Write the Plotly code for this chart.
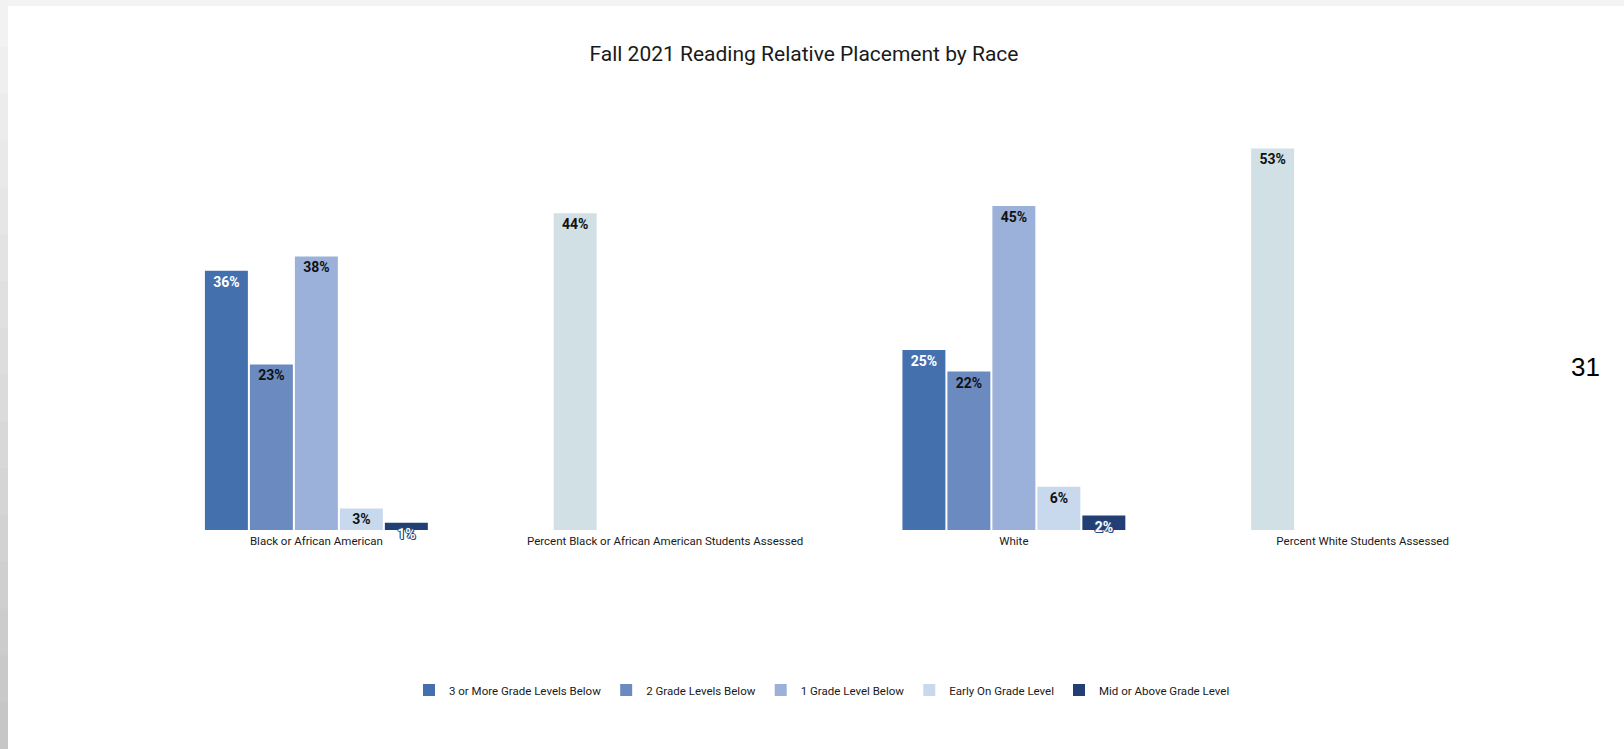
import plotly.graph_objects as go

# ---- data ----
categories = [
    "Black or African American",
    "Percent Black or African American Students Assessed",
    "White",
    "Percent White Students Assessed",
]
three_or_more_below = [36, None, 25, None]
two_below = [23, None, 22, None]
one_below = [38, None, 45, None]
early_on = [3, None, 6, None]
mid_or_above = [1, None, 2, None]
pct_assessed = [None, 44, None, 53]

series_names = [
    "3 or More Grade Levels Below",
    "2 Grade Levels Below",
    "1 Grade Level Below",
    "Early On Grade Level",
    "Mid or Above Grade Level",
]

# ---- page geometry (pixels) ----
W, H = 1624, 749
ML, MR, MT, MB = 142, 87, 134, 219
PW, PH = W - ML - MR, H - MT - MB


def px_x(px):
    return (px - ML) / PW


def px_y(py):
    return (H - MB - py) / PH


FONT = "Roboto, 'Noto Sans', sans-serif"
colors = ["#4570ae", "#6b8bc0", "#9cb1d9", "#c8d9ee", "#213f75"]
text_colors = ["#ffffff", "#111111", "#111111", "#111111", "#ffffff"]
assessed_color = "#d1e0e4"
OUTLINE = ("1px 0 0 #2c4a7e, -1px 0 0 #2c4a7e, 0 1px 0 #2c4a7e, "
           "0 -1px 0 #2c4a7e, 1px 1px 0 #2c4a7e, -1px -1px 0 #2c4a7e")

fig = go.Figure()

values = [three_or_more_below, two_below, one_below, early_on, mid_or_above]
for i, (name, vals) in enumerate(zip(series_names, values)):
    fig.add_trace(go.Bar(
        x=categories, y=vals, name=name,
        marker=dict(color=colors[i], line=dict(width=0)),
        offsetgroup=f"g{i}",
        texttemplate="%{y}%",
        textposition="inside",
        insidetextanchor="end",
        constraintext="none",
        cliponaxis=False,
        textangle=0,
        textfont=dict(family=FONT, size=14, color=text_colors[i],
                      weight="bold",
                      shadow=OUTLINE if i == 4 else "none"),
        hoverinfo="x+y+name",
    ))

# share the first slot so the assessed bar sits at the left of its group
fig.add_trace(go.Bar(
    x=categories, y=pct_assessed, name="Percent Assessed",
    marker=dict(color=assessed_color, line=dict(width=0)),
    offsetgroup="g0",
    showlegend=False,
    texttemplate="%{y}%",
    textposition="inside",
    insidetextanchor="end",
    constraintext="none",
    textangle=0,
    textfont=dict(family=FONT, size=14, color="#111111", weight="bold"),
))

# slide frame: light grey top strip and shaded left edge
shapes = [dict(type="rect", xref="paper", yref="paper", layer="below",
               x0=px_x(0), x1=px_x(W), y0=px_y(0), y1=px_y(6),
               fillcolor="#f3f3f3", line=dict(width=0))]
steps = 16
top_c, bot_c = (243, 243, 243), (197, 197, 197)
for k in range(steps):
    t = (k + 0.5) / steps
    c = tuple(round(a + (b - a) * t) for a, b in zip(top_c, bot_c))
    shapes.append(dict(
        type="rect", xref="paper", yref="paper", layer="below",
        x0=px_x(0), x1=px_x(8),
        y0=px_y(H * k / steps), y1=px_y(H * (k + 1) / steps + 1),
        fillcolor="rgb(%d,%d,%d)" % c, line=dict(width=0)))

fig.update_layout(
    width=W, height=H,
    margin=dict(l=ML, r=MR, t=MT, b=MB, pad=0),
    paper_bgcolor="#ffffff",
    plot_bgcolor="rgba(0,0,0,0)",
    barmode="group",
    bargap=0.355,
    bargroupgap=0.045,
    title=dict(text="Fall 2021 Reading Relative Placement by Race",
               xref="container", yref="container",
               x=804 / W, y=1 - 54 / H, xanchor="center", yanchor="middle",
               font=dict(family=FONT, size=21, color="#1a1a1a")),
    xaxis=dict(showgrid=False, zeroline=False, showline=False, ticks="",
               ticklabelstandoff=2,
               tickfont=dict(family=FONT, size=11.5, color="#1a1a1a")),
    yaxis=dict(range=[0, 55], visible=False, showgrid=False, zeroline=False),
    legend=dict(orientation="h", xref="container", yref="container",
                x=822 / W, y=1 - 690 / H, xanchor="center", yanchor="middle",
                font=dict(family=FONT, size=11.5, color="#1a1a1a"),
                itemwidth=30, traceorder="normal"),
    shapes=shapes,
    annotations=[dict(text="31", xref="paper", yref="paper",
                      x=px_x(1585), y=px_y(367), showarrow=False,
                      xanchor="center", yanchor="middle",
                      font=dict(family="Liberation Sans, Arial, sans-serif",
                                size=26, color="#000000"))],
    showlegend=True,
)

fig.write_html("out.html")
